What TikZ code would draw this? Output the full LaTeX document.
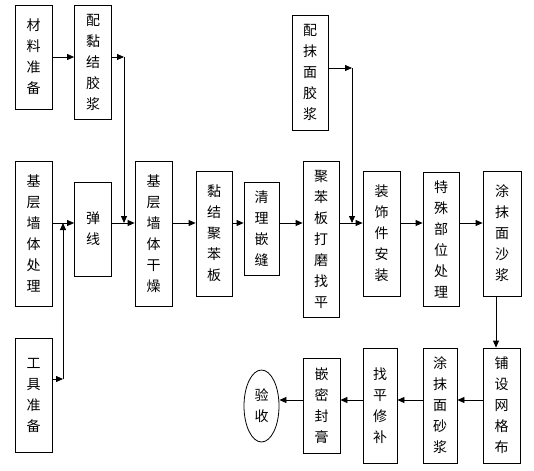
\documentclass[tikz,border=0pt]{standalone}
\usepackage{fontspec}
\newfontfamily\cjk{Noto Sans CJK SC}
\usetikzlibrary{arrows.meta,shapes.geometric}

\begin{document}
\begin{tikzpicture}[x=1pt,y=-1pt,
    paso/.style={draw,line width=0.8pt,minimum width=37pt,inner sep=0pt,
      align=center,font=\cjk\fontsize{14}{21}\selectfont},
    fin/.style={paso,ellipse,minimum width=35pt,minimum height=72pt},
    flecha/.style={line width=0.8pt,-{Triangle[length=7pt,width=6pt]}}]

    \useasboundingbox (0,0) rectangle (534,470);

    % filas de flechas
    \coordinate (arriba) at (0,57);
    \coordinate (fila) at (0,223);
    \coordinate (bajo) at (0,400);

    % columna izquierda
    \node[paso,minimum height=104pt] (cailiao) at (33.5,57) {材\\料\\准\\备};
    \node[paso,minimum height=114pt] (peinian) at (93,62) {配\\黏\\结\\胶\\浆};
    \node[paso,minimum height=145pt] (jiceng) at (33.5,233.5) {基\\层\\墙\\体\\处\\理};
    \node[paso,minimum height=94pt] (tanxian) at (93,229) {弹\\线};
    \node[paso,minimum height=114pt] (gongju) at (33.5,395) {工\\具\\准\\备};

    % fila central
    \node[paso,minimum height=145pt] (ganzao) at (153.5,233.5) {基\\层\\墙\\体\\干\\燥};
    \node[paso,minimum height=125pt,minimum width=36pt] (nianjie) at (214,233.5) {黏\\结\\聚\\苯\\板};
    \node[paso,minimum height=93pt,minimum width=35pt] (qingli) at (261.5,228.5) {清\\理\\嵌\\缝};
    \node[paso,minimum height=156pt,minimum width=36pt] (damo) at (321,239) {聚\\苯\\板\\打\\磨\\找\\平};
    \node[paso,minimum height=115pt,minimum width=36pt] (peimo) at (310,72.5) {配\\抹\\面\\胶\\浆};
    \node[paso,minimum height=125pt] (zhuangshi) at (381.5,233.5) {装\\饰\\件\\安\\装};
    \node[paso,minimum height=134pt,minimum width=36pt] (teshu) at (441,239) {特\\殊\\部\\位\\处\\理};
    \node[paso,minimum height=125pt,minimum width=38pt] (tumo) at (502,233.5) {涂\\抹\\面\\沙\\浆};

    % fila inferior
    \node[paso,minimum height=115pt] (wangge) at (501.5,405.5) {铺\\设\\网\\格\\布};
    \node[paso,minimum height=115pt,minimum width=34pt] (shajiang) at (440,405.5) {涂\\抹\\面\\砂\\浆};
    \node[paso,minimum height=115pt,minimum width=34pt] (xiubu) at (380,405.5) {找\\平\\修\\补};
    \node[paso,minimum height=95pt] (fenggao) at (321.5,405.5) {嵌\\密\\封\\膏};
    \node[fin] (yanshou) at (261.5,406) {验\\收};

    % flechas de arriba
    \coordinate (codo1) at (124,57);
    \coordinate (codo2) at (352,68);
    \coordinate (codo3) at (63,379);
    \draw[flecha] (cailiao.east |- arriba) -- (peinian.west |- arriba);
    \draw[flecha] (peinian.east |- arriba) -- (codo1);
    \draw[flecha] (codo1) -- (codo1 |- fila);
    \draw[flecha] (peimo.east |- codo2) -- (codo2);
    \draw[flecha] (codo2) -- (codo2 |- fila);
    \draw[flecha] (gongju.east |- codo3) -- (codo3);
    \draw[flecha] (codo3) -- (codo3 |- fila);

    % flechas de la fila central
    \foreach \a/\b in {jiceng/tanxian,tanxian/ganzao,ganzao/nianjie,nianjie/qingli,
                       qingli/damo,damo/zhuangshi,zhuangshi/teshu,teshu/tumo}
      \draw[flecha] (\a.east |- fila) -- (\b.west |- fila);

    % bajada
    \coordinate (caida) at (496,0);
    \draw[flecha] (tumo.south -| caida) -- (wangge.north -| caida);

    % flechas de abajo
    \foreach \a/\b in {wangge/shajiang,shajiang/xiubu,xiubu/fenggao,fenggao/yanshou}
      \draw[flecha] (\a.west |- bajo) -- (\b.east |- bajo);

\end{tikzpicture}
\end{document}
